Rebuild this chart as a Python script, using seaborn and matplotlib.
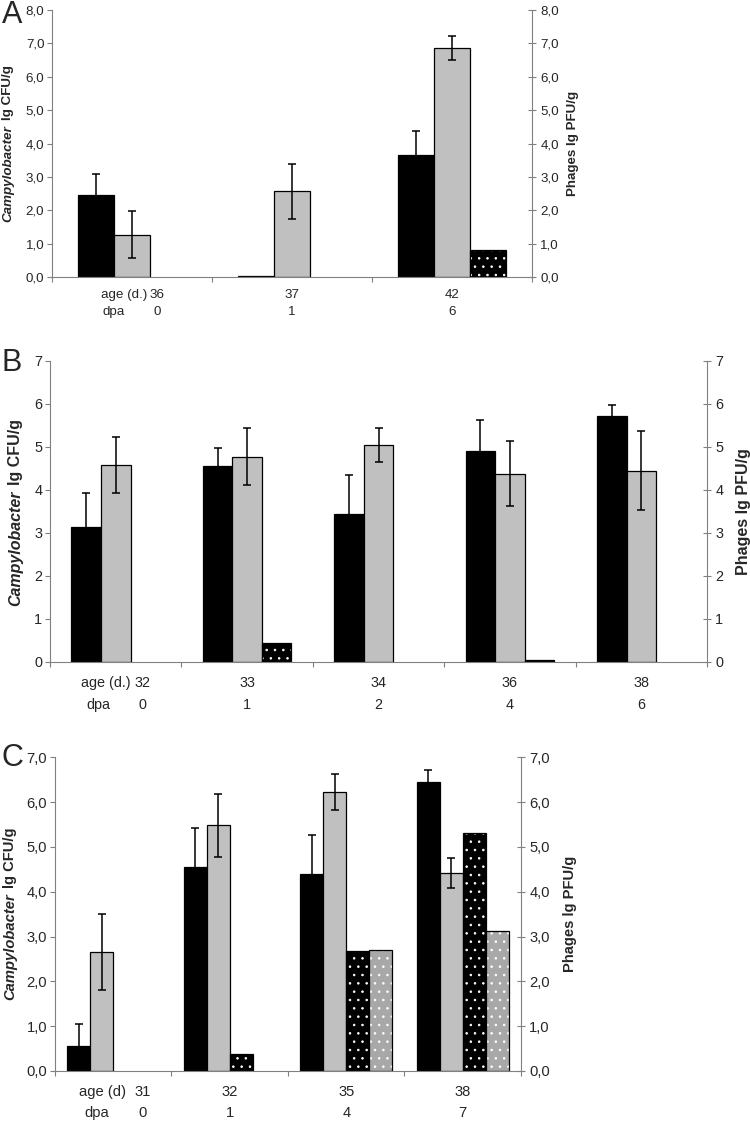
import matplotlib
matplotlib.use("Agg")
import matplotlib.pyplot as plt
import seaborn as sns
import pandas as pd
import numpy as np

# ---- data ----
# panel A
a_age = ["36", "37", "42"]
a_dpa = ["0", "1", "6"]
a_camp_black = [2.45, 0.02, 3.65]
a_camp_black_err = [0.63, 0.0, 0.72]
a_camp_grey = [1.27, 2.57, 6.87]
a_camp_grey_err = [0.70, 0.82, 0.36]
a_phage_black = [np.nan, np.nan, 0.82]

# panel B
b_age = ["32", "33", "34", "36", "38"]
b_dpa = ["0", "1", "2", "4", "6"]
b_camp_black = [3.14, 4.55, 3.45, 4.90, 5.72]
b_camp_black_err = [0.79, 0.42, 0.90, 0.72, 0.25]
b_camp_grey = [4.58, 4.77, 5.05, 4.38, 4.45]
b_camp_grey_err = [0.64, 0.66, 0.39, 0.76, 0.92]
b_phage_black = [np.nan, 0.43, np.nan, 0.05, np.nan]

# panel C
c_age = ["31", "32", "35", "38"]
c_dpa = ["0", "1", "4", "7"]
c_camp_black = [0.55, 4.55, 4.40, 6.45]
c_camp_black_err = [0.50, 0.87, 0.87, 0.27]
c_camp_grey = [2.65, 5.48, 6.23, 4.42]
c_camp_grey_err = [0.85, 0.70, 0.40, 0.33]
c_phage_black = [np.nan, 0.37, 2.68, 5.30]
c_phage_grey = [np.nan, np.nan, 2.70, 3.12]

COLORS = {"camp_black": "#000000", "camp_grey": "#c0c0c0",
          "phage_black": "#000000", "phage_grey": "#a8a8a8"}
HATCHED = {"phage_black", "phage_grey"}
AXIS_GREY = "#808080"

sns.set_style("white")
plt.rcParams["font.family"] = ["Liberation Sans", "DejaVu Sans"]
plt.rcParams["hatch.linewidth"] = 0.6


def long_table(ages, series):
    rows = []
    for name, vals in series.items():
        for age, v in zip(ages, vals):
            rows.append({"age": age, "series": name, "value": v})
    return pd.DataFrame(rows)


def draw_panel(ax, letter, ages, dpas, series, errs, ymax, width, decimals,
               fs, lab_fs, split, lab_off, rlab_off, num_off, age_off, dpa_off,
               age_word, line_off):
    names = list(series)
    df = long_table(ages, series)
    sns.barplot(data=df, x="age", y="value", hue="series", order=ages,
                hue_order=names, palette=[COLORS[k] for k in names],
                width=width, errorbar=None, legend=False, saturation=1,
                edgecolor="black", linewidth=0.9, ax=ax)

    # hatch the phage bars, add error bars to the Campylobacter bars
    for name, cont in zip(names, ax.containers):
        for bar in cont:
            h = bar.get_height()
            if not np.isfinite(h):
                continue
            if name in HATCHED:
                bar.set_hatch("..")
                if hasattr(bar, "set_hatchcolor"):
                    bar.set_hatchcolor("white")
                else:
                    bar._hatch_color = (1, 1, 1, 1)
            if name in errs:
                cx = bar.get_x() + bar.get_width() / 2
                e = errs[name][int(round(cx))]
                if e > 0:
                    ax.errorbar(cx, h, yerr=e, color="black", elinewidth=1.1,
                                capsize=2.7, capthick=1.1, fmt="none", zorder=5)

    n = len(ages)
    ax.set_xlim(-0.5, n - 0.5)
    ax.set_ylim(0, ymax)
    ax.set_xticks(np.arange(-0.5, n, 1.0))
    ax.set_xticklabels([])
    ax.set_xlabel("")
    ax.set_ylabel("")
    yt = np.arange(0, ymax + 1)
    ylabels = [f"{v:.{decimals}f}".replace(".", ",") for v in yt]
    ax.set_yticks(yt)
    ax.set_yticklabels(ylabels, fontsize=fs)
    ax.tick_params(axis="both", direction="out", length=3.5, width=0.8,
                   color=AXIS_GREY, left=True, bottom=True, pad=2)
    for s in ["left", "bottom"]:
        ax.spines[s].set_color(AXIS_GREY)
        ax.spines[s].set_linewidth(0.8)
    ax.spines["top"].set_visible(False)
    ax.spines["right"].set_visible(False)

    ax2 = ax.twinx()
    ax2.set_ylim(0, ymax)
    ax2.set_yticks(yt)
    ax2.set_yticklabels(ylabels, fontsize=fs)
    ax2.tick_params(axis="y", direction="inout", length=6, width=0.8,
                    color=AXIS_GREY, right=True, pad=3)
    for s in ["left", "bottom", "top"]:
        ax2.spines[s].set_visible(False)
    ax2.spines["right"].set_color(AXIS_GREY)
    ax2.spines["right"].set_linewidth(0.8)

    # axis titles
    ax.annotate("Campylobacter", xy=(0, split), xycoords="axes fraction",
                xytext=(lab_off, 0), textcoords="offset points", rotation=90,
                ha="center", va="top", fontsize=lab_fs, fontweight="bold",
                style="italic")
    ax.annotate("lg CFU/g", xy=(0, split), xycoords="axes fraction",
                xytext=(lab_off, 4), textcoords="offset points", rotation=90,
                ha="center", va="bottom", fontsize=lab_fs, fontweight="bold")
    ax.annotate("Phages lg PFU/g", xy=(1, 0.5), xycoords="axes fraction",
                xytext=(rlab_off, 0), textcoords="offset points", rotation=90,
                ha="center", va="center", fontsize=lab_fs, fontweight="bold")

    # category labels under the axis
    for i, (age, dpa) in enumerate(zip(ages, dpas)):
        dx = num_off if i == 0 else 0
        for txt, dy in [(age, line_off[0]), (dpa, line_off[1])]:
            ax.annotate(txt, xy=(i, 0), xycoords=("data", "axes fraction"),
                        xytext=(dx, dy), textcoords="offset points",
                        ha="center", va="center", fontsize=fs)
    ax.annotate(age_word, xy=(0, 0), xycoords=("data", "axes fraction"),
                xytext=(age_off, line_off[0]), textcoords="offset points",
                ha="left", va="center", fontsize=fs)
    ax.annotate("dpa", xy=(0, 0), xycoords=("data", "axes fraction"),
                xytext=(dpa_off, line_off[1]), textcoords="offset points",
                ha="left", va="center", fontsize=fs)

    ax.figure.text(0.002, {"A": 1.0, "B": 0.69, "C": 0.338}[letter], letter,
                   fontsize=22, va="top", ha="left")


fig = plt.figure(figsize=(7.5, 11.22), dpi=100)
axA = fig.add_axes([0.0693, 0.7531, 0.640, 0.238])
axB = fig.add_axes([0.0667, 0.4100, 0.876, 0.2683])
axC = fig.add_axes([0.0733, 0.0455, 0.6213, 0.2796])

draw_panel(axA, "A", a_age, a_dpa,
           {"camp_black": a_camp_black, "camp_grey": a_camp_grey,
            "phage_black": a_phage_black},
           {"camp_black": a_camp_black_err, "camp_grey": a_camp_grey_err},
           8, 0.675, 1, 9.6, 9.6, 0.569, -31.5, 29.5, 18, -22.5, -21.5,
           "age (d.)", (-13, -25))

draw_panel(axB, "B", b_age, b_dpa,
           {"camp_black": b_camp_black, "camp_grey": b_camp_grey,
            "phage_black": b_phage_black},
           {"camp_black": b_camp_black_err, "camp_grey": b_camp_grey_err},
           7, 0.675, 0, 10.4, 11.5, 0.57, -24.5, 26, 19.4, -25, -21,
           "age (d.)", (-15, -31))

draw_panel(axC, "C", c_age, c_dpa,
           {"camp_black": c_camp_black, "camp_grey": c_camp_grey,
            "phage_black": c_phage_black, "phage_grey": c_phage_grey},
           {"camp_black": c_camp_black_err, "camp_grey": c_camp_grey_err},
           7, 0.79, 1, 10.6, 10.6, 0.567, -32.4, 35, 21, -24.5, -21,
           "age (d)", (-15, -30))

fig.savefig("out.png", dpi=100)
